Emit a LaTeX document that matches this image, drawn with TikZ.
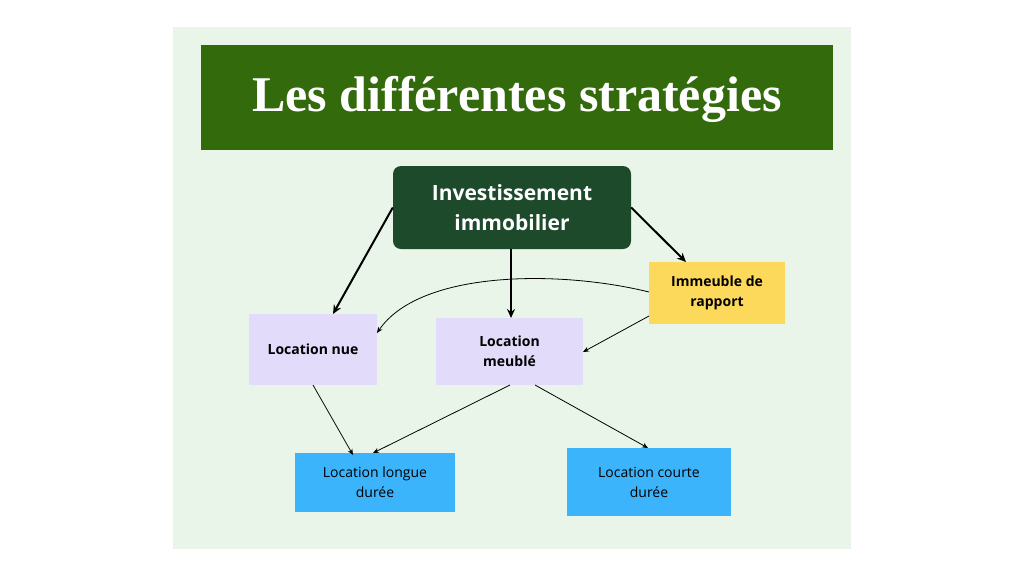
\documentclass[tikz,border=0pt]{standalone}
\usepackage{fontspec}
\setmainfont{Open Sans}
\newfontfamily\titlefont{Liberation Serif}
\usetikzlibrary{arrows.meta}
\definecolor{panel}{HTML}{EAF5EA}
\definecolor{titlebg}{HTML}{336A0C}
\definecolor{inv}{HTML}{1E4A2C}
\definecolor{yel}{HTML}{FCD95B}
\definecolor{lav}{HTML}{E2DBFA}
\definecolor{blu}{HTML}{3CB4FB}
\tikzset{
 box/.style={inner sep=0pt, align=center},
 thick arr/.style={-{Stealth[length=9pt,width=8pt]}, line width=2pt},
 thin arr/.style={-{Stealth[length=6pt,width=5pt]}, line width=0.8pt},
}
\begin{document}
\begin{tikzpicture}[x=1pt,y=-1pt]
\useasboundingbox (0,0) rectangle (1024,576);
\fill[white] (0,0) rectangle (1024,576);
\fill[panel] (173,27) rectangle (851,549);
\fill[titlebg] (201,45) rectangle (833,150);
\node[text=white, font=\titlefont\bfseries\fontsize{50}{56}\selectfont] (title) at (517,99) {Les différentes stratégies};
\node[box, fill=inv, rounded corners=8pt, minimum width=238pt, minimum height=83pt, text=white, font=\bfseries\fontsize{21}{30}\selectfont] (inv) at (512,207.5) {Investissement\\immobilier};
\node[box, fill=yel, minimum width=136pt, minimum height=62pt, font=\bfseries\fontsize{14}{20}\selectfont] (imm) at (717,293) {Immeuble de\\rapport};
\node[box, fill=lav, minimum width=128pt, minimum height=71pt, font=\bfseries\fontsize{14}{20}\selectfont] (nue) at (313,349.5) {Location nue};
\node[box, fill=lav, minimum width=147pt, minimum height=67pt, font=\bfseries\fontsize{14}{20}\selectfont] (meu) at (509.5,351.5) {Location\\meublé};
\node[box, fill=blu, minimum width=160pt, minimum height=59pt, font=\fontsize{14}{20}\selectfont] (lon) at (375,482.5) {Location longue\\durée};
\node[box, fill=blu, minimum width=164pt, minimum height=68pt, font=\fontsize{14}{20}\selectfont] (cou) at (649,482) {Location courte\\durée};
\draw[thick arr] (inv.west) -- (333,314);
\draw[thick arr] (511,249) -- (511,318);
\draw[thick arr] (inv.east) -- (686,262);
\draw[thin arr] (649,292) .. controls (560,270) and (420,270) .. (377,333);
\draw[thin arr] (649,316) -- (583,352);
\draw[thin arr] (313,385) -- (353,455);
\draw[thin arr] (510,385) -- (373,453);
\draw[thin arr] (535,385) -- (648,448);
\end{tikzpicture}
\end{document}
